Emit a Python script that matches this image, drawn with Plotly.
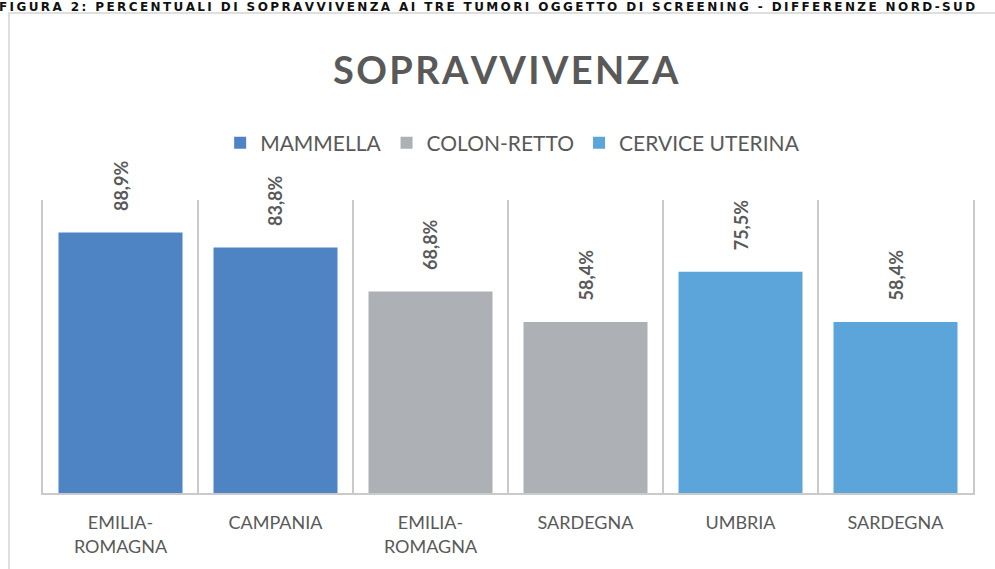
import plotly.graph_objects as go

# ---- data ----
regions = ["EMILIA-ROMAGNA", "CAMPANIA", "EMILIA-ROMAGNA", "SARDEGNA", "UMBRIA", "SARDEGNA"]
tumors = ["MAMMELLA", "MAMMELLA", "COLON-RETTO", "COLON-RETTO", "CERVICE UTERINA", "CERVICE UTERINA"]
values = [88.9, 83.8, 68.8, 58.4, 75.5, 58.4]
series_names = ["MAMMELLA", "COLON-RETTO", "CERVICE UTERINA"]
series_colors = {"MAMMELLA": "#4F84C4", "COLON-RETTO": "#ADB0B5", "CERVICE UTERINA": "#5CA5DB"}

title_text = "SOPRAVVIVENZA"
caption_text = "FIGURA 2: PERCENTUALI DI SOPRAVVIVENZA AI TRE TUMORI OGGETTO DI SCREENING - DIFFERENZE NORD-SUD"

FONT = "Lato, 'Open Sans', sans-serif"
TXT = "#595959"
GRID = "#CACACA"

keys = [f"{i}|{t}" for i, t in enumerate(tumors)]
ticktext = [r.replace("-", "-<br>") for r in regions]

fig = go.Figure()
for s in series_names:
    xs = [k for k, t in zip(keys, tumors) if t == s]
    ys = [v for v, t in zip(values, tumors) if t == s]
    fig.add_trace(go.Bar(x=xs, y=ys, name=s, marker=dict(color=series_colors[s], line=dict(width=0))))

for k, v in zip(keys, values):
    fig.add_annotation(x=k, y=v, xref="x", yref="y", text=f"{v:.1f}%".replace(".", ","),
                       textangle=-90, showarrow=False, yanchor="middle", yshift=47,
                       font=dict(family=FONT, size=18, color=TXT, weight="bold"))

# title (letter-spaced with hair spaces)
fig.add_annotation(x=0.498, y=(493 - 69) / 293, xref="paper", yref="paper",
                   text="\u200a".join(title_text),
                   showarrow=False, xanchor="center", yanchor="middle",
                   font=dict(family=FONT, size=38, color=TXT, weight="bold"))
# caption at the very top (letter-spaced)
fig.add_annotation(x=(487 - 43) / 930, y=(493 + 1) / 293, xref="paper", yref="paper",
                   text="\u2009".join(caption_text), showarrow=False, xanchor="center", yanchor="top",
                   borderpad=0,
                   font=dict(family="DejaVu Sans, sans-serif", size=12, color="#111111", weight="bold"))

# outer frame
fig.add_shape(type="rect", xref="paper", yref="paper",
              x0=(9 - 43) / 930, x1=1.1, y0=-0.5, y1=(493 - 13) / 293,
              line=dict(color="#D5D5D5", width=1.5), fillcolor="rgba(0,0,0,0)", layer="below")

fig.update_layout(
    width=995, height=569,
    margin=dict(l=43, r=22, t=200, b=76),
    paper_bgcolor="white", plot_bgcolor="white",
    barmode="relative", bargap=0.2,
    showlegend=True,
    legend=dict(orientation="h", x=0.505, xanchor="center", y=(493 - 143) / 293, yanchor="middle",
                font=dict(family=FONT, size=21, color=TXT), itemwidth=30, traceorder="normal"),
    font=dict(family=FONT, color=TXT),
    xaxis=dict(type="category", tickmode="array", tickvals=keys, ticktext=ticktext,
               tickson="boundaries", showgrid=True, gridcolor=GRID, gridwidth=1.5,
               showline=True, linecolor=GRID, linewidth=1.5, ticks="", ticklabelstandoff=13,
               tickfont=dict(family=FONT, size=18, color=TXT), range=[-0.5, 5.5]),
    yaxis=dict(range=[0, 100], showgrid=False, showticklabels=False, zeroline=False,
               showline=True, linecolor=GRID, linewidth=1.5, mirror=True, ticks=""),
)

fig.write_html("out.html")
